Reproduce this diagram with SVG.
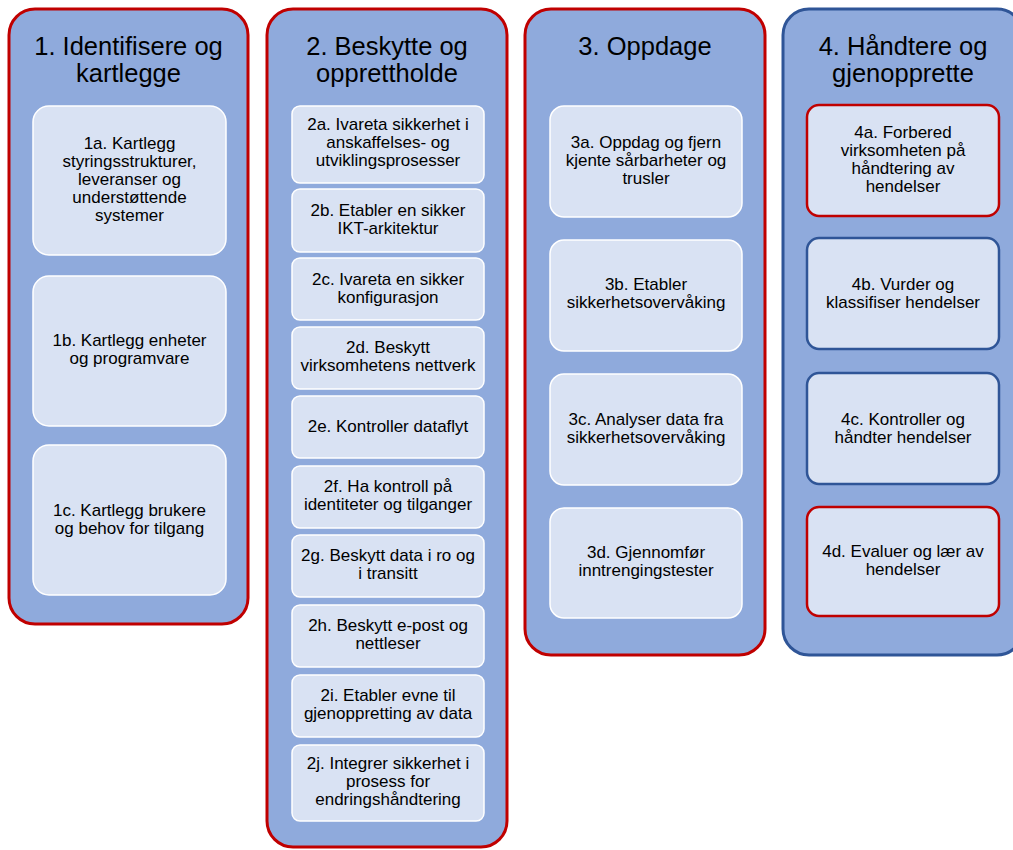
<svg xmlns="http://www.w3.org/2000/svg" width="1013" height="850" viewBox="0 0 1013 850">
<style>
.col{fill:#8FAADC;stroke-width:3}
.red{stroke:#C00000}
.blue{stroke:#2F5597}
.box{fill:#D9E2F3;stroke:#FFFFFF;stroke-width:1.5}
.box4{fill:#D9E2F3;stroke-width:2.5}
.title{font-family:"Liberation Sans",Arial,sans-serif;font-size:25.5px;fill:#000;text-anchor:middle}
.t{font-family:"Liberation Sans",Arial,sans-serif;font-size:17px;fill:#000;text-anchor:middle}
</style>
<rect width="1013" height="850" fill="#FFFFFF"/>
<g id="col1">
<rect class="col red" x="9" y="9" width="239" height="615" rx="26"/>
<text class="title" x="128.5" y="55">1. Identifisere og</text>
<text class="title" x="128.5" y="82">kartlegge</text>
</g>
<g id="col2">
<rect class="col red" x="267" y="9" width="240" height="838" rx="26"/>
<text class="title" x="387" y="55">2. Beskytte og</text>
<text class="title" x="387" y="82">opprettholde</text>
</g>
<g id="col3">
<rect class="col red" x="525" y="9" width="240" height="646" rx="26"/>
<text class="title" x="645" y="55">3. Oppdage</text>
</g>
<g id="col4">
<rect class="col blue" x="783" y="9" width="240" height="646" rx="26"/>
<text class="title" x="903" y="55">4. Håndtere og</text>
<text class="title" x="903" y="82">gjenopprette</text>
</g>
<g id="n1a"><rect class="box" x="33" y="106" width="193" height="149" rx="16"/>
<text class="t" x="129.5" y="148.5">1a. Kartlegg</text><text class="t" x="129.5" y="166.5">styringsstrukturer,</text><text class="t" x="129.5" y="184.5">leveranser og</text><text class="t" x="129.5" y="202.5">understøttende</text><text class="t" x="129.5" y="220.5">systemer</text></g>
<g id="n1b"><rect class="box" x="33" y="276" width="193" height="150" rx="16"/>
<text class="t" x="129.5" y="346">1b. Kartlegg enheter</text><text class="t" x="129.5" y="364">og programvare</text></g>
<g id="n1c"><rect class="box" x="33" y="445" width="193" height="150" rx="16"/>
<text class="t" x="129.5" y="516">1c. Kartlegg brukere</text><text class="t" x="129.5" y="534">og behov for tilgang</text></g>
<g id="n2a"><rect class="box" x="292" y="106" width="192" height="77" rx="8"/>
<text class="t" x="388" y="129.5">2a. Ivareta sikkerhet i</text><text class="t" x="388" y="147.5">anskaffelses- og</text><text class="t" x="388" y="165.5">utviklingsprosesser</text></g>
<g id="n2b"><rect class="box" x="292" y="189" width="192" height="63" rx="8"/>
<text class="t" x="388" y="216">2b. Etabler en sikker</text><text class="t" x="388" y="234">IKT-arkitektur</text></g>
<g id="n2c"><rect class="box" x="292" y="258" width="192" height="62" rx="8"/>
<text class="t" x="388" y="285">2c. Ivareta en sikker</text><text class="t" x="388" y="303">konfigurasjon</text></g>
<g id="n2d"><rect class="box" x="292" y="327" width="192" height="62" rx="8"/>
<text class="t" x="388" y="353">2d. Beskytt</text><text class="t" x="388" y="371">virksomhetens nettverk</text></g>
<g id="n2e"><rect class="box" x="292" y="396" width="192" height="62" rx="8"/>
<text class="t" x="388" y="432">2e. Kontroller dataflyt</text></g>
<g id="n2f"><rect class="box" x="292" y="466" width="192" height="62" rx="8"/>
<text class="t" x="388" y="492">2f. Ha kontroll på</text><text class="t" x="388" y="510">identiteter og tilganger</text></g>
<g id="n2g"><rect class="box" x="292" y="535" width="192" height="62" rx="8"/>
<text class="t" x="388" y="561">2g. Beskytt data i ro og</text><text class="t" x="388" y="579">i transitt</text></g>
<g id="n2h"><rect class="box" x="292" y="605" width="192" height="62" rx="8"/>
<text class="t" x="388" y="631">2h. Beskytt e-post og</text><text class="t" x="388" y="649">nettleser</text></g>
<g id="n2i"><rect class="box" x="292" y="675" width="192" height="62" rx="8"/>
<text class="t" x="388" y="701">2i. Etabler evne til</text><text class="t" x="388" y="719">gjenoppretting av data</text></g>
<g id="n2j"><rect class="box" x="292" y="745" width="192" height="76" rx="8"/>
<text class="t" x="388" y="768.5">2j. Integrer sikkerhet i</text><text class="t" x="388" y="786.5">prosess for</text><text class="t" x="388" y="804.5">endringshåndtering</text></g>
<g id="n3a"><rect class="box" x="550" y="106" width="192" height="111" rx="14"/>
<text class="t" x="646" y="147.5">3a. Oppdag og fjern</text><text class="t" x="646" y="165.5">kjente sårbarheter og</text><text class="t" x="646" y="183.5">trusler</text></g>
<g id="n3b"><rect class="box" x="550" y="240" width="192" height="111" rx="14"/>
<text class="t" x="646" y="290">3b. Etabler</text><text class="t" x="646" y="308">sikkerhetsovervåking</text></g>
<g id="n3c"><rect class="box" x="550" y="374" width="192" height="111" rx="14"/>
<text class="t" x="646" y="424.5">3c. Analyser data fra</text><text class="t" x="646" y="442.5">sikkerhetsovervåking</text></g>
<g id="n3d"><rect class="box" x="550" y="508" width="192" height="110" rx="14"/>
<text class="t" x="646" y="557.5">3d. Gjennomfør</text><text class="t" x="646" y="575.5">inntrengingstester</text></g>
<g id="n4a"><rect class="box4 red" x="807" y="105" width="192" height="111" rx="12"/>
<text class="t" x="903" y="138">4a. Forbered</text><text class="t" x="903" y="156">virksomheten på</text><text class="t" x="903" y="174">håndtering av</text><text class="t" x="903" y="192">hendelser</text></g>
<g id="n4b"><rect class="box4 blue" x="807" y="238" width="192" height="111" rx="12"/>
<text class="t" x="903" y="290">4b. Vurder og</text><text class="t" x="903" y="308">klassifiser hendelser</text></g>
<g id="n4c"><rect class="box4 blue" x="807" y="373" width="192" height="111" rx="12"/>
<text class="t" x="903" y="424.5">4c. Kontroller og</text><text class="t" x="903" y="442.5">håndter hendelser</text></g>
<g id="n4d"><rect class="box4 red" x="807" y="507" width="192" height="109" rx="12"/>
<text class="t" x="903" y="556.5">4d. Evaluer og lær av</text><text class="t" x="903" y="574.5">hendelser</text></g>
<g id="connectors"></g>
</svg>
